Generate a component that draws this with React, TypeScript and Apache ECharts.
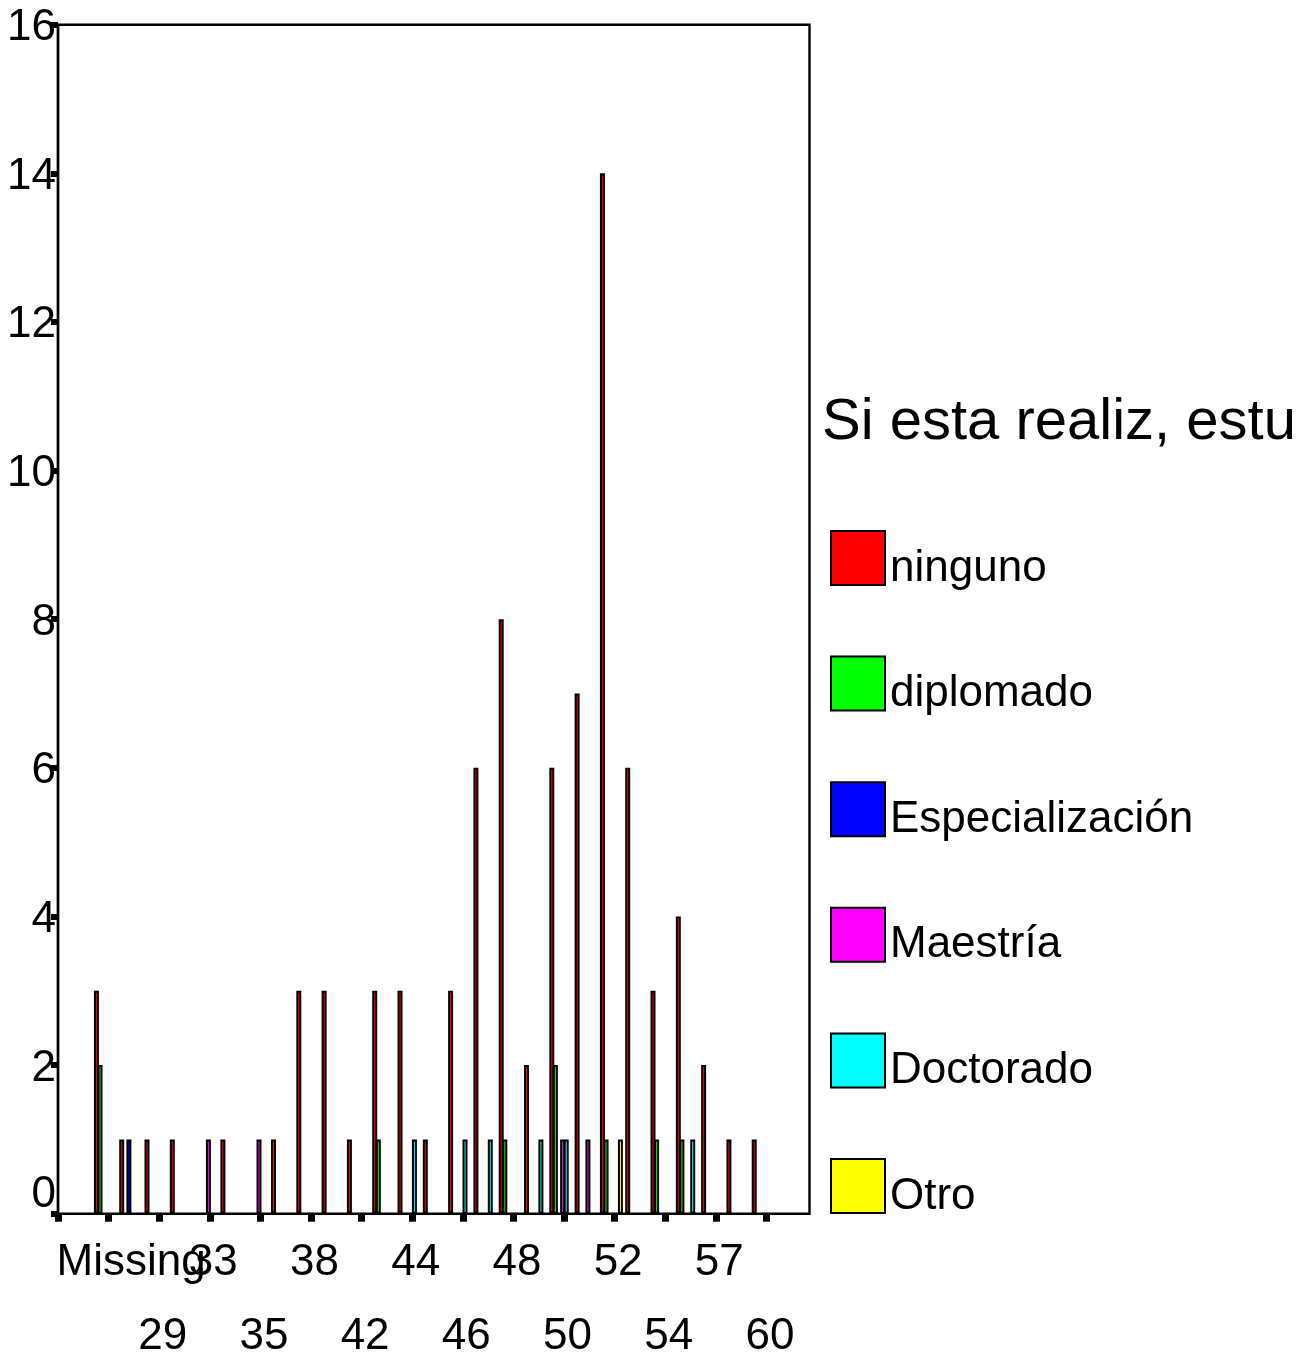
import React, { useEffect, useRef } from "react";
import * as echarts from "echarts";

const titleText = "Si esta realiz, estu";
const seriesNames = ["ninguno", "diplomado", "Especialización", "Maestría", "Doctorado", "Otro"];
const seriesColors = ["#FF0000", "#00FF00", "#0000FF", "#FF00FF", "#00FFFF", "#FFFF00"];

// Age categories (only every other one is labelled on the axis)
const ageCategories = [
  "Missing", "28", "29", "31", "33", "34", "35", "37", "38", "40",
  "42", "43", "44", "45", "46", "47", "48", "49", "50", "51",
  "52", "53", "54", "55", "57", "58", "60",
];

const ninguno = [3, 1, 1, 1, 0, 1, 0, 1, 3, 3, 1, 3, 3, 1, 3, 6, 8, 2, 6, 7, 14, 6, 3, 4, 2, 1, 1];
const diplomado = [2, 0, 0, 0, 0, 0, 0, 0, 0, 0, 0, 1, 0, 0, 0, 0, 1, 0, 2, 0, 1, 0, 1, 1, 0, 0, 0];
const especializacion = [0, 1, 0, 0, 0, 0, 0, 0, 0, 0, 0, 0, 0, 0, 0, 0, 0, 0, 0, 0, 0, 0, 0, 0, 0, 0, 0];
const maestria = [0, 0, 0, 0, 1, 0, 1, 0, 0, 0, 0, 0, 0, 0, 0, 0, 0, 0, 1, 1, 0, 0, 0, 0, 0, 0, 0];
const doctorado = [0, 0, 0, 0, 0, 0, 0, 0, 0, 0, 0, 0, 1, 0, 1, 1, 0, 1, 1, 0, 0, 0, 0, 1, 0, 0, 0];
const otro = [0, 0, 0, 0, 0, 0, 0, 0, 0, 0, 0, 0, 0, 0, 0, 0, 0, 0, 0, 0, 1, 0, 0, 0, 0, 0, 0];

const yMin = 0;
const yMax = 16;
const yInterval = 2;

export default function App() {
  const ref = useRef<HTMLDivElement>(null);

  useEffect(() => {
    if (!ref.current) return;
    const chart = echarts.init(ref.current, null, { renderer: "svg" });
    const font = "'Liberation Sans', Arial, sans-serif";
    const seriesValues = [ninguno, diplomado, especializacion, maestria, doctorado, otro];
    // axis slots: two empty slots before the first category, two after the last
    const lead = 2;
    const axisSlots = ["", "", ...ageCategories, "", ""];

    const xLabel = (_: string, j: number) => {
      const k = j - lead;
      if (k < 0 || k % 2 !== 0 || k >= ageCategories.length) return "";
      const name = ageCategories[k];
      if (k === 0) return "{m|" + name + "}";
      return (k / 2) % 2 === 1 ? "\n" + name : name;
    };

    // plot frame
    const frame = { x: 58, y: 24.7, w: 751.5, h: 1189 };

    chart.setOption({
      animation: false,
      textStyle: { fontFamily: font, color: "#000" },
      title: {
        text: titleText,
        left: 822,
        top: 389,
        padding: 0,
        textStyle: { fontSize: 58, fontWeight: "normal", color: "#000", fontFamily: font },
      },
      legend: {
        orient: "vertical",
        left: 830,
        top: 530,
        padding: 0,
        itemWidth: 54,
        itemHeight: 54,
        itemGap: 68.6,
        icon: "rect",
        selectedMode: false,
        itemStyle: { borderColor: "#000", borderWidth: 2 },
        formatter: "{a|{name}}",
        textStyle: {
          fontSize: 44,
          color: "#000",
          fontFamily: font,
          rich: { a: { fontSize: 44, color: "#000", fontFamily: font, padding: [14, 0, 0, 0] } },
        },
        data: seriesNames,
      },
      graphic: [
        {
          type: "rect",
          z: 5,
          shape: { x: frame.x, y: frame.y, width: frame.w, height: frame.h },
          style: { fill: "none", stroke: "#000", lineWidth: 2.4 },
          silent: true,
        },
      ],
      grid: {
        left: frame.x,
        top: frame.y,
        width: 759,
        height: frame.h,
        show: false,
        outerBoundsMode: "none",
        containLabel: false,
      },
      xAxis: [
        {
          type: "category",
          data: axisSlots,
          boundaryGap: false,
          splitLine: { show: false },
          axisLine: { show: false, onZero: false },
          axisTick: {
            show: true,
            interval: (j: number) => j % 2 === 0 && j <= lead + ageCategories.length - 1,
            length: 8,
            lineStyle: { color: "#000", width: 7 },
          },
          axisLabel: {
            interval: 0,
            fontSize: 44,
            lineHeight: 74,
            color: "#000",
            fontFamily: font,
            margin: 9,
            padding: [0, 0, 0, 7],
            formatter: xLabel,
            rich: {
              m: { fontSize: 44, lineHeight: 74, color: "#000", fontFamily: font, padding: [0, 0, 0, 38] },
            },
          },
        },
        {
          type: "value",
          min: -1.874,
          max: 28.126,
          show: false,
          axisLine: { onZero: false },
          splitLine: { show: false },
        },
      ],
      yAxis: {
        type: "value",
        min: yMin,
        max: yMax,
        interval: yInterval,
        splitLine: { show: false },
        axisLine: { show: true, onZero: false, lineStyle: { color: "#000", width: 2.4 } },
        axisTick: { show: true, length: 7, lineStyle: { color: "#000", width: 6 } },
        axisLabel: {
          fontSize: 44,
          color: "#000",
          fontFamily: font,
          margin: 2,
          formatter: (v: number) => (v === 0 ? "0\n" : String(v)),
        },
      },
      series: seriesValues.map((vals, i) => ({
        type: "bar",
        name: seriesNames[i],
        xAxisIndex: 1,
        yAxisIndex: 0,
        barWidth: 5,
        barGap: "-28%",
        itemStyle: { color: seriesColors[i], borderColor: "#000", borderWidth: 2 },
        data: vals.map((v, k) => [k, v]).filter((d) => d[1] > 0),
      })),
    });

    return () => chart.dispose();
  }, []);

  return (
    <div
      ref={ref}
      style={{ position: "fixed", left: 0, top: 0, width: 1316, height: 1359 }}
    />
  );
}
